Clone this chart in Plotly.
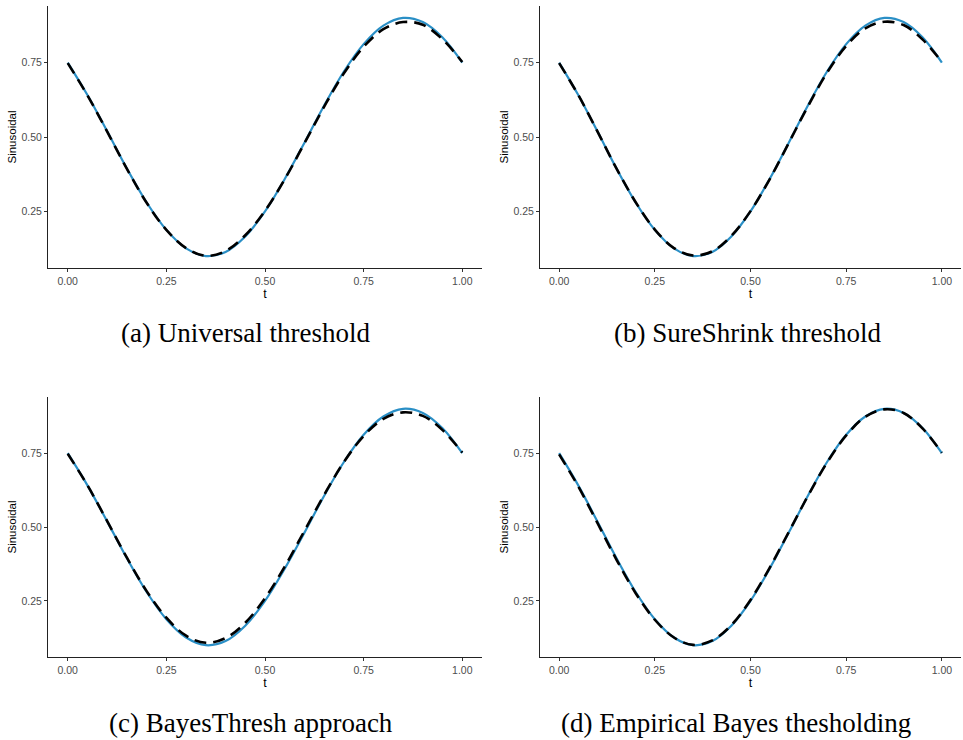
import plotly.graph_objects as go
from plotly.subplots import make_subplots

# ---- data ----
t = [0.00, 0.05, 0.10, 0.15, 0.20, 0.25, 0.30, 0.35, 0.40, 0.45, 0.50,
     0.55, 0.60, 0.65, 0.70, 0.75, 0.80, 0.85, 0.90, 0.95, 1.00]

true_signal = [0.750, 0.641, 0.519, 0.394, 0.280, 0.188, 0.126, 0.100, 0.114, 0.166, 0.250,
               0.359, 0.481, 0.606, 0.720, 0.812, 0.874, 0.900, 0.886, 0.834, 0.750]

est_universal = [0.748, 0.640, 0.518, 0.393, 0.279, 0.188, 0.127, 0.101, 0.117, 0.170, 0.252,
                 0.358, 0.479, 0.602, 0.714, 0.803, 0.862, 0.886, 0.877, 0.828, 0.752]

est_sureshrink = [0.748, 0.641, 0.519, 0.394, 0.281, 0.189, 0.127, 0.102, 0.116, 0.168, 0.251,
                  0.358, 0.480, 0.603, 0.716, 0.806, 0.865, 0.887, 0.876, 0.827, 0.752]

est_bayesthresh = [0.748, 0.641, 0.520, 0.396, 0.283, 0.193, 0.132, 0.108, 0.124, 0.176, 0.259,
                   0.366, 0.487, 0.609, 0.720, 0.808, 0.866, 0.888, 0.876, 0.828, 0.752]

est_empbayes = [0.746, 0.637, 0.514, 0.389, 0.276, 0.186, 0.126, 0.101, 0.116, 0.168, 0.253,
                0.362, 0.483, 0.605, 0.718, 0.810, 0.873, 0.898, 0.886, 0.833, 0.751]

captions = ["(a) Universal threshold", "(b) SureShrink threshold",
            "(c) BayesThresh approach", "(d) Empirical Bayes thesholding"]
x_ticks = [0.00, 0.25, 0.50, 0.75, 1.00]
x_ticktext = ["0.00", "0.25", "0.50", "0.75", "1.00"]
y_ticks = [0.25, 0.50, 0.75]
y_ticktext = ["0.25", "0.50", "0.75"]

estimates = [est_universal, est_sureshrink, est_bayesthresh, est_empbayes]

W, H = 963, 740
BLUE = "#2A8FC6"

fig = make_subplots(rows=2, cols=2)

positions = [(1, 1), (1, 2), (2, 1), (2, 2)]
for (r, c), est in zip(positions, estimates):
    fig.add_trace(go.Scatter(x=t, y=true_signal, mode="lines",
                             line=dict(color=BLUE, width=2.2, shape="spline"),
                             showlegend=False, hoverinfo="skip"), row=r, col=c)
    fig.add_trace(go.Scatter(x=t, y=est, mode="lines",
                             line=dict(color="black", width=2.6, dash="12px,7px", shape="spline"),
                             showlegend=False, hoverinfo="skip"), row=r, col=c)

# domains in pixels
xdoms = {1: (48, 482), 2: (540, 961)}
ydoms = {1: (6, 268), 2: (397, 657)}

axis_common = dict(showgrid=False, zeroline=False, showline=True,
                   linecolor="#222222", linewidth=1.1, ticks="outside",
                   ticklen=3, tickwidth=1, tickcolor="#333333",
                   tickfont=dict(family="Liberation Sans, Arial", size=10.5, color="#4D4D4D"))

for i, (r, c) in enumerate(positions):
    idx = "" if i == 0 else str(i + 1)
    x0, x1 = xdoms[c]
    y0, y1 = ydoms[r]
    fig.layout["xaxis" + idx].update(
        domain=[x0 / W, x1 / W], range=[-0.05, 1.05],
        tickvals=x_ticks, ticktext=x_ticktext,
        title=dict(text="t", standoff=1,
                   font=dict(family="Liberation Sans, Arial", size=12.5, color="black")),
        **axis_common)
    fig.layout["yaxis" + idx].update(
        domain=[1 - y1 / H, 1 - y0 / H], range=[0.06, 0.94],
        tickvals=y_ticks, ticktext=y_ticktext,
        title=dict(text="Sinusoidal", standoff=2,
                   font=dict(family="Liberation Sans, Arial", size=11.5, color="black")),
        **axis_common)

cap_pos = [(246, 333), (747, 333), (251, 723), (736, 723)]
for text, (cx, cy) in zip(captions, cap_pos):
    fig.add_annotation(text=text, x=cx / W, y=1 - cy / H, xref="paper", yref="paper",
                       showarrow=False, xanchor="center", yanchor="middle",
                       font=dict(family="Times New Roman, Liberation Serif, serif", size=27, color="black"))

fig.update_layout(width=W, height=H, margin=dict(l=0, r=0, t=0, b=0),
                  paper_bgcolor="white", plot_bgcolor="white")

fig.write_html("out.html")
